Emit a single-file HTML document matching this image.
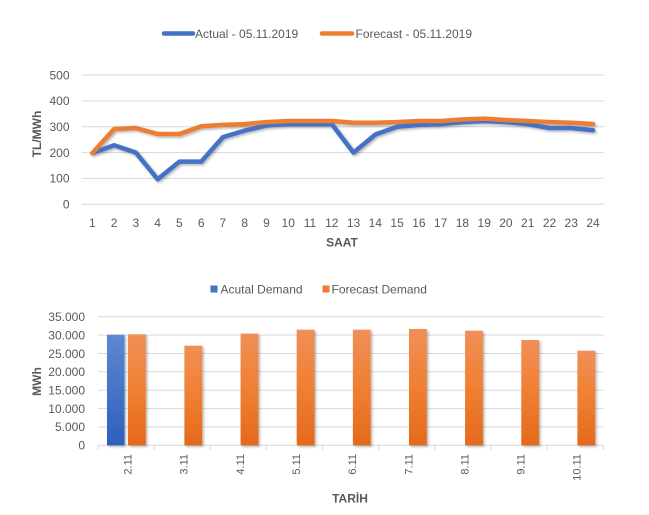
<!DOCTYPE html>
<html><head><meta charset="utf-8"><style>
html,body{margin:0;padding:0;background:#fff;}
svg{display:block;font-family:"Liberation Sans",sans-serif;}
</style></head><body>
<svg width="649" height="515" viewBox="0 0 649 515" xmlns="http://www.w3.org/2000/svg">
<defs>
<linearGradient id="gb" x1="0" y1="0" x2="0" y2="1"><stop offset="0" stop-color="#5D88D2"/><stop offset="1" stop-color="#2E5FBC"/></linearGradient>
<linearGradient id="go" x1="0" y1="0" x2="0" y2="1"><stop offset="0" stop-color="#F08F58"/><stop offset="0.5" stop-color="#F07F32"/><stop offset="1" stop-color="#E4691C"/></linearGradient>
<filter id="sh" x="-20%" y="-20%" width="140%" height="140%"><feDropShadow dx="1.5" dy="1.5" stdDeviation="1.2" flood-color="#000" flood-opacity="0.3"/></filter>
</defs>
<rect width="649" height="515" fill="#fff"/>

<!-- TOP LEGEND -->
<line x1="164" y1="33.5" x2="193" y2="33.5" stroke="#4472C4" stroke-width="4.5" stroke-linecap="round"/>
<text x="195" y="37.8" font-size="12" fill="#595959">Actual - 05.11.2019</text>
<line x1="322" y1="33.5" x2="352" y2="33.5" stroke="#ED7D31" stroke-width="4.5" stroke-linecap="round"/>
<text x="355.5" y="37.8" font-size="12" fill="#595959">Forecast - 05.11.2019</text>

<!-- TOP GRID -->
<g stroke="#D9D9D9" stroke-width="1">
<line x1="81.5" y1="75" x2="604" y2="75"/>
<line x1="81.5" y1="100.9" x2="604" y2="100.9"/>
<line x1="81.5" y1="126.7" x2="604" y2="126.7"/>
<line x1="81.5" y1="152.6" x2="604" y2="152.6"/>
<line x1="81.5" y1="178.4" x2="604" y2="178.4"/>
<line x1="81.5" y1="204.3" x2="604" y2="204.3"/>
</g>
<g font-size="12" fill="#595959" text-anchor="end">
<text x="69.5" y="79.3">500</text>
<text x="69.5" y="105.2">400</text>
<text x="69.5" y="131">300</text>
<text x="69.5" y="156.9">200</text>
<text x="69.5" y="182.7">100</text>
<text x="69.5" y="208.6">0</text>
</g>
<g font-size="12" fill="#595959" text-anchor="middle">
<text x="92.3" y="227">1</text><text x="114.1" y="227">2</text><text x="135.8" y="227">3</text><text x="157.6" y="227">4</text>
<text x="179.4" y="227">5</text><text x="201.2" y="227">6</text><text x="222.9" y="227">7</text><text x="244.7" y="227">8</text>
<text x="266.5" y="227">9</text><text x="288.2" y="227">10</text><text x="310" y="227">11</text><text x="331.8" y="227">12</text>
<text x="353.5" y="227">13</text><text x="375.3" y="227">14</text><text x="397.1" y="227">15</text><text x="418.9" y="227">16</text>
<text x="440.6" y="227">17</text><text x="462.4" y="227">18</text><text x="484.2" y="227">19</text><text x="505.9" y="227">20</text>
<text x="527.7" y="227">21</text><text x="549.5" y="227">22</text><text x="571.2" y="227">23</text><text x="593" y="227">24</text>
</g>
<text x="342" y="246.5" font-size="12" font-weight="bold" fill="#595959" text-anchor="middle">SAAT</text>
<text transform="translate(41,134) rotate(-90)" font-size="12" font-weight="bold" fill="#595959" text-anchor="middle">TL/MWh</text>

<!-- TOP SERIES -->
<g fill="none" stroke-width="4.5" stroke-linejoin="round" stroke-linecap="round" filter="url(#sh)">
<polyline stroke="#4472C4" points="92.3,153.1 114.1,145.2 135.8,152.6 157.6,179.2 179.4,161.6 201.2,161.6 222.9,137.1 244.7,130.6 266.5,125.4 288.2,124.1 310,124.1 331.8,124.1 353.5,152.6 375.3,134.5 397.1,126.7 418.9,124.9 440.6,124.1 462.4,122.1 484.2,121 505.9,122.1 527.7,124.1 549.5,128 571.2,128 593,130.3"/>
<polyline stroke="#ED7D31" points="92.3,153.1 114.1,129 135.8,128 157.6,134 179.4,134 201.2,126.2 222.9,124.9 244.7,124.1 266.5,122.1 288.2,121 310,121 331.8,121 353.5,122.8 375.3,122.8 397.1,122.1 418.9,121 440.6,121 462.4,119.5 484.2,118.6 505.9,120 527.7,121 549.5,122.1 571.2,122.8 593,124"/>
</g>

<!-- BOTTOM LEGEND -->
<rect x="210.5" y="285.5" width="7" height="7" fill="#4472C4"/>
<text x="220.5" y="293.3" font-size="12" fill="#595959">Acutal Demand</text>
<rect x="322.5" y="285.5" width="7" height="7" fill="#ED7D31"/>
<text x="331.5" y="293.3" font-size="12" fill="#595959">Forecast Demand</text>

<!-- BOTTOM GRID -->
<g stroke="#D9D9D9" stroke-width="1">
<line x1="98" y1="316.7" x2="603.3" y2="316.7"/>
<line x1="98" y1="335.1" x2="603.3" y2="335.1"/>
<line x1="98" y1="353.5" x2="603.3" y2="353.5"/>
<line x1="98" y1="371.8" x2="603.3" y2="371.8"/>
<line x1="98" y1="390.2" x2="603.3" y2="390.2"/>
<line x1="98" y1="408.6" x2="603.3" y2="408.6"/>
<line x1="98" y1="426.9" x2="603.3" y2="426.9"/>
<line x1="98" y1="445.3" x2="603.3" y2="445.3"/>
<line x1="98" y1="445.3" x2="98" y2="450"/>
<line x1="154.1" y1="445.3" x2="154.1" y2="450"/>
<line x1="210.3" y1="445.3" x2="210.3" y2="450"/>
<line x1="266.4" y1="445.3" x2="266.4" y2="450"/>
<line x1="322.6" y1="445.3" x2="322.6" y2="450"/>
<line x1="378.7" y1="445.3" x2="378.7" y2="450"/>
<line x1="434.8" y1="445.3" x2="434.8" y2="450"/>
<line x1="491" y1="445.3" x2="491" y2="450"/>
<line x1="547.1" y1="445.3" x2="547.1" y2="450"/>
<line x1="603.3" y1="445.3" x2="603.3" y2="450"/>
</g>
<g font-size="12" fill="#595959" text-anchor="end">
<text x="85" y="321">35.000</text>
<text x="85" y="339.4">30.000</text>
<text x="85" y="357.8">25.000</text>
<text x="85" y="376.1">20.000</text>
<text x="85" y="394.5">15.000</text>
<text x="85" y="412.9">10.000</text>
<text x="85" y="431.2">5.000</text>
<text x="85" y="449.6">0</text>
</g>

<!-- BARS -->
<g filter="url(#sh)">
<rect x="107" y="334.7" width="17.5" height="110.6" fill="url(#gb)"/>
<rect x="128" y="334.3" width="17.8" height="111" fill="url(#go)"/>
<rect x="184.4" y="345.7" width="17.8" height="99.6" fill="url(#go)"/>
<rect x="240.6" y="333.6" width="17.8" height="111.7" fill="url(#go)"/>
<rect x="296.7" y="329.7" width="17.8" height="115.6" fill="url(#go)"/>
<rect x="352.9" y="329.7" width="17.8" height="115.6" fill="url(#go)"/>
<rect x="409" y="329" width="17.8" height="116.3" fill="url(#go)"/>
<rect x="465.1" y="330.7" width="17.8" height="114.6" fill="url(#go)"/>
<rect x="521.3" y="340" width="17.8" height="105.3" fill="url(#go)"/>
<rect x="577.4" y="350.7" width="17.8" height="94.6" fill="url(#go)"/>
</g>

<g font-size="11" fill="#595959" text-anchor="end">
<text transform="translate(131.5,454) rotate(-90)">2.11</text>
<text transform="translate(187.7,454) rotate(-90)">3.11</text>
<text transform="translate(243.8,454) rotate(-90)">4.11</text>
<text transform="translate(300,454) rotate(-90)">5.11</text>
<text transform="translate(356.1,454) rotate(-90)">6.11</text>
<text transform="translate(412.3,454) rotate(-90)">7.11</text>
<text transform="translate(468.4,454) rotate(-90)">8.11</text>
<text transform="translate(524.5,454) rotate(-90)">9.11</text>
<text transform="translate(580.7,454) rotate(-90)">10.11</text>
</g>
<text x="350" y="502.5" font-size="12" font-weight="bold" fill="#595959" text-anchor="middle">TARİH</text>
<text transform="translate(41,381.5) rotate(-90)" font-size="12" font-weight="bold" fill="#595959" text-anchor="middle">MWh</text>
</svg>
</body></html>
